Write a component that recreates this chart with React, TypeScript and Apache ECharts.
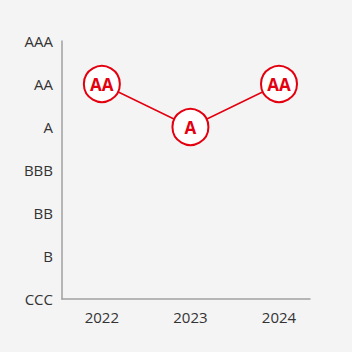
import React, { useEffect, useRef } from "react";
import * as echarts from "echarts";

const ratings = ["CCC", "B", "BB", "BBB", "A", "AA", "AAA"];
const years = [2022, 2023, 2024];
const yearRatings = ["AA", "A", "AA"];

export default function App() {
  const ref = useRef<HTMLDivElement>(null);
  useEffect(() => {
    const chart = echarts.init(ref.current!, null, { renderer: "svg" });
    const red = "#e3000f";
    chart.setOption({
      animation: false,
      backgroundColor: "#f4f4f4",
      grid: { left: 62, right: 42, top: 41, bottom: 53 },
      xAxis: {
        type: "value",
        min: 2021.55,
        max: 2024.35,
        axisLine: { show: true, lineStyle: { color: "#a0a0a0", width: 1.5 } },
        axisTick: { show: false },
        splitLine: { show: false },
        axisLabel: {
          customValues: years,
          margin: 10,
          color: "#333",
          fontSize: 15,
          fontFamily: "Open Sans",
          formatter: (v: number) => String(v),
        },
      },
      yAxis: {
        type: "category",
        data: ratings,
        boundaryGap: false,
        axisLine: { show: true, lineStyle: { color: "#a0a0a0", width: 1.5 } },
        axisTick: { show: false },
        splitLine: { show: false },
        axisLabel: {
          margin: 9,
          color: "#333",
          fontSize: 15,
          fontFamily: "Open Sans",
        },
      },
      series: [
        {
          type: "line",
          data: years.map((y, i) => [y, yearRatings[i]]),
          symbol: "circle",
          symbolSize: 36,
          lineStyle: { color: red, width: 1.5 },
          itemStyle: { color: "#ffffff", borderColor: red, borderWidth: 2 },
          label: {
            show: true,
            position: "inside",
            formatter: (p: any) => p.value[1],
            color: red,
            fontSize: 17,
            fontWeight: "bold",
            fontFamily: "Open Sans",
          },
        },
      ],
    });
    return () => chart.dispose();
  }, []);
  return <div ref={ref} style={{ width: 352, height: 352, position: "absolute", left: 0, top: 0 }} />;
}
